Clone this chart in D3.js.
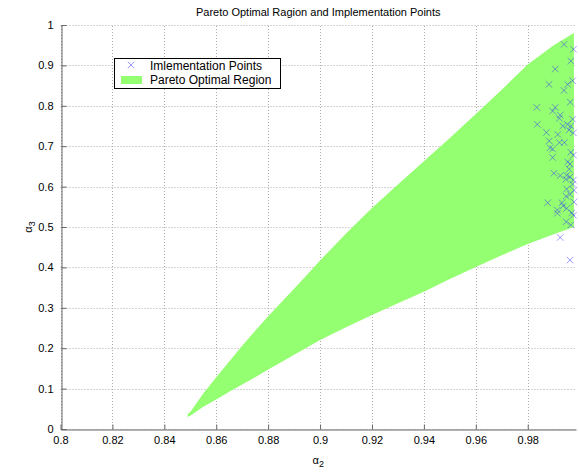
<!DOCTYPE html>
<html>
<head>
<meta charset="utf-8">
<script src="https://cdn.jsdelivr.net/npm/d3@7"></script>
<style>
  body { margin: 0; background: #fff; }
  text { font-family: "Liberation Sans", Arial, sans-serif; fill: #000; }
</style>
</head>
<body>
<script>
// pareto region boundaries
const regionX     = [0.849, 0.850, 0.855, 0.860, 0.865, 0.870, 0.875, 0.880, 0.885, 0.890, 0.895, 0.900, 0.910, 0.920, 0.930, 0.940, 0.950, 0.960, 0.970, 0.980, 0.990, 0.9978];
const regionUpper = [0.037, 0.042, 0.088, 0.128, 0.167, 0.206, 0.243, 0.279, 0.313, 0.347, 0.382, 0.417, 0.484, 0.547, 0.605, 0.663, 0.720, 0.780, 0.840, 0.902, 0.950, 0.980];
const regionLower = [0.030, 0.033, 0.055, 0.073, 0.092, 0.110, 0.128, 0.147, 0.165, 0.184, 0.202, 0.220, 0.252, 0.282, 0.311, 0.340, 0.371, 0.401, 0.430, 0.458, 0.482, 0.500];

// implementation points
const pointsX = [0.9940, 0.9976, 0.9966, 0.9906, 0.9882, 0.9954, 0.9973, 0.9940, 0.9964, 0.9835,
                 0.9906, 0.9896, 0.9925, 0.9922, 0.9973, 0.9837, 0.9935, 0.9953, 0.9966, 0.9959,
                 0.9976, 0.9872, 0.9916, 0.9883, 0.9922, 0.9941, 0.9886, 0.9896, 0.9966, 0.9976,
                 0.9896, 0.9954, 0.9963, 0.9960, 0.9901, 0.9925, 0.9950, 0.9963, 0.9976, 0.9947,
                 0.9973, 0.9978, 0.9950, 0.9963, 0.9948, 0.9978, 0.9877, 0.9932, 0.9937, 0.9950,
                 0.9914, 0.9914, 0.9970, 0.9976, 0.9948, 0.9966, 0.9925, 0.9963];
const pointsY = [0.952, 0.940, 0.911, 0.891, 0.853, 0.853, 0.862, 0.838, 0.809, 0.796,
                 0.796, 0.787, 0.777, 0.769, 0.767, 0.754, 0.750, 0.754, 0.750, 0.740,
                 0.733, 0.734, 0.729, 0.713, 0.709, 0.709, 0.696, 0.693, 0.685, 0.678,
                 0.672, 0.661, 0.656, 0.643, 0.633, 0.627, 0.628, 0.624, 0.616, 0.618,
                 0.606, 0.591, 0.594, 0.581, 0.576, 0.562, 0.560, 0.560, 0.552, 0.546,
                 0.542, 0.534, 0.535, 0.529, 0.513, 0.505, 0.474, 0.418];

const xTicks = [0.8, 0.82, 0.84, 0.86, 0.88, 0.9, 0.92, 0.94, 0.96, 0.98];
const yTicks = [0, 0.1, 0.2, 0.3, 0.4, 0.5, 0.6, 0.7, 0.8, 0.9, 1];

const width = 579;
const height = 475;
const margin = { top: 25, right: 3, bottom: 46, left: 60.5 };

const svg = d3.select('body').append('svg')
  .attr('width', width)
  .attr('height', height);

const x = d3.scaleLinear().domain([0.8, 0.9986]).range([margin.left, width - margin.right]);
const y = d3.scaleLinear().domain([0, 1]).range([height - margin.bottom, margin.top]);

const green = '#94ff70';
const blue = '#3333ff';

// grid
const grid = svg.append('g')
  .attr('stroke', '#aaa')
  .attr('stroke-dasharray', '1,2');
grid.selectAll('.vx')
  .data(xTicks)
  .enter().append('line')
  .attr('x1', d => Math.round(x(d)) + 0.5)
  .attr('x2', d => Math.round(x(d)) + 0.5)
  .attr('y1', y(0))
  .attr('y2', y(1));
grid.selectAll('.hy')
  .data(yTicks)
  .enter().append('line')
  .attr('x1', x.range()[0])
  .attr('x2', x.range()[1])
  .attr('y1', d => Math.round(y(d)) + 0.5)
  .attr('y2', d => Math.round(y(d)) + 0.5);

// pareto region
const region = regionX.map((d, i) => ({ x: d, lo: regionLower[i], hi: regionUpper[i] }));
svg.append('path')
  .datum(region)
  .attr('fill', green)
  .attr('d', d3.area().x(d => x(d.x)).y0(d => y(d.lo)).y1(d => y(d.hi)));

// implementation points
const pts = pointsX.map((d, i) => ({ x: d, y: pointsY[i] }));
const cross = 3.2;
svg.append('g')
  .selectAll('path')
  .data(pts)
  .enter().append('path')
  .attr('transform', d => `translate(${x(d.x)},${y(d.y)})`)
  .attr('d', `M${-cross},${-cross}L${cross},${cross}M${-cross},${cross}L${cross},${-cross}`)
  .attr('stroke', blue)
  .attr('stroke-opacity', 0.5)
  .attr('fill', 'none');

// axes
const xAxis = d3.axisBottom(x).tickValues(xTicks).tickSizeInner(-5).tickSizeOuter(0).tickPadding(6)
  .tickFormat(d3.format('~g'));
const yAxis = d3.axisLeft(y).tickValues(yTicks).tickSizeInner(-5).tickSizeOuter(0).tickPadding(8)
  .tickFormat(d3.format('~g'));

const gx = svg.append('g')
  .attr('transform', `translate(0,${Math.round(y(0)) + 0.5})`)
  .call(xAxis);
const gy = svg.append('g')
  .attr('transform', `translate(${Math.round(x(0.8)) + 0.5},0)`)
  .call(yAxis);

[gx, gy].forEach(g => {
  g.select('.domain').attr('stroke', '#666');
  g.selectAll('.tick line').attr('stroke', '#666');
  g.selectAll('.tick text')
    .attr('font-size', 11)
    .attr('font-family', '"Liberation Sans", Arial, sans-serif')
    .attr('fill', '#111');
});
gx.selectAll('.tick text').attr('dy', '0.75em');

// title and labels
svg.append('text')
  .attr('x', (x.range()[0] + x.range()[1]) / 2)
  .attr('y', 16)
  .attr('text-anchor', 'middle')
  .attr('font-size', 11)
  .text('Pareto Optimal Ragion and Implementation Points');

const xl = svg.append('text')
  .attr('x', (x.range()[0] + x.range()[1]) / 2)
  .attr('y', 464)
  .attr('text-anchor', 'middle')
  .attr('font-size', 11);
xl.append('tspan').text('α');
xl.append('tspan').attr('font-size', 9).attr('dy', 3).text('2');

const yl = svg.append('text')
  .attr('transform', `translate(32,${(y(0) + y(1)) / 2}) rotate(-90)`)
  .attr('text-anchor', 'middle')
  .attr('font-size', 11);
yl.append('tspan').text('α');
yl.append('tspan').attr('font-size', 9).attr('dy', 3).text('3');

// legend
const legend = svg.append('g').attr('transform', 'translate(114,58)');
legend.append('rect')
  .attr('x', 0.5).attr('y', 0.5)
  .attr('width', 166).attr('height', 30)
  .attr('fill', '#fff')
  .attr('stroke', '#000');
legend.append('path')
  .attr('transform', 'translate(17,7)')
  .attr('d', `M${-cross},${-cross}L${cross},${cross}M${-cross},${cross}L${cross},${-cross}`)
  .attr('stroke', blue)
  .attr('stroke-opacity', 0.5)
  .attr('fill', 'none');
legend.append('rect')
  .attr('x', 7).attr('y', 18)
  .attr('width', 21).attr('height', 8)
  .attr('fill', green);
legend.append('text').attr('x', 36).attr('y', 11.5).attr('font-size', 12).text('Imlementation Points');
legend.append('text').attr('x', 36).attr('y', 26).attr('font-size', 12).text('Pareto Optimal Region');
</script>
</body>
</html>
